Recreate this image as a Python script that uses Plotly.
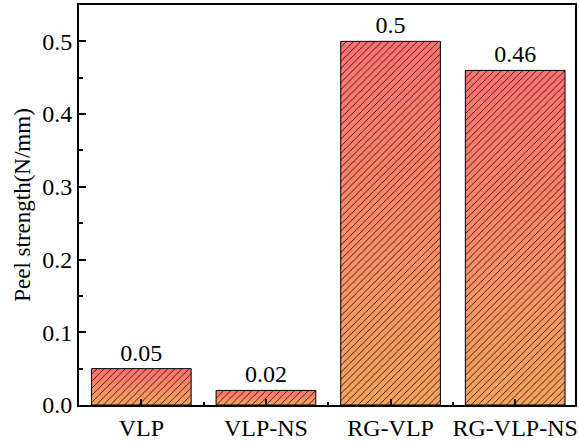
import plotly.graph_objects as go

# Peel strength of the four samples
categories = ["VLP", "VLP-NS", "RG-VLP", "RG-VLP-NS"]
peel_strength = [0.05, 0.02, 0.5, 0.46]
y_ticks = [0.0, 0.1, 0.2, 0.3, 0.4, 0.5]

BAR_WIDTH = 0.8
TOP_COLOR = "#FF7070"
BOTTOM_COLOR = "#F5A35E"
FONT = "Times New Roman, Liberation Serif, serif"

x_pos = list(range(len(categories)))

fig = go.Figure()

# Value labels come from a transparent bar trace (bar layer sits underneath)
fig.add_trace(go.Bar(
    x=x_pos,
    y=peel_strength,
    width=BAR_WIDTH,
    marker=dict(color="rgba(0,0,0,0)", line=dict(width=0)),
    text=[f"{v:g}" for v in peel_strength],
    textposition="outside",
    textfont=dict(family=FONT, size=24, color="black"),
    cliponaxis=False,
    hoverinfo="skip",
    showlegend=False,
))


def bar_outline(xi, v):
    x0, x1 = xi - BAR_WIDTH / 2, xi + BAR_WIDTH / 2
    return [x0, x1, x1, x0, x0], [0, 0, v, v, 0]


# Gradient fill for each bar (orange at the base, red at the top)
for xi, v in zip(x_pos, peel_strength):
    xs, ys = bar_outline(xi, v)
    fig.add_trace(go.Scatter(
        x=xs, y=ys,
        mode="lines",
        line=dict(width=0),
        fill="toself",
        fillgradient=dict(
            type="vertical",
            colorscale=[[0, BOTTOM_COLOR], [1, TOP_COLOR]],
        ),
        hoverinfo="skip",
        showlegend=False,
    ))

# Diagonal hatching and black border on top of the gradient
for xi, v in zip(x_pos, peel_strength):
    xs, ys = bar_outline(xi, v)
    fig.add_trace(go.Scatter(
        x=xs, y=ys,
        mode="lines",
        line=dict(color="black", width=1),
        fill="toself",
        fillcolor="rgba(0,0,0,0)",
        fillpattern=dict(shape="/", fgcolor="black", bgcolor="rgba(0,0,0,0)",
                         fillmode="replace", size=5, solidity=0.15),
        hoverinfo="skip",
        showlegend=False,
    ))

fig.update_layout(
    width=579,
    height=443,
    margin=dict(l=79, r=2, t=5, b=36),
    paper_bgcolor="white",
    plot_bgcolor="white",
    font=dict(family=FONT, size=24, color="black"),
    xaxis=dict(
        range=[-0.5, 3.48],
        tickmode="array",
        tickvals=x_pos,
        ticktext=categories,
        ticks="inside",
        ticklen=6,
        tickwidth=2,
        tickcolor="black",
        showline=True,
        linecolor="black",
        linewidth=2,
        mirror=True,
        showgrid=False,
        zeroline=False,
        minor=dict(tickvals=[0.5, 1.5, 2.5], ticks="inside", ticklen=3,
                   tickwidth=2, tickcolor="black"),
        tickfont=dict(family=FONT, size=24),
    ),
    yaxis=dict(
        range=[0, 0.55],
        tickmode="array",
        tickvals=y_ticks,
        ticktext=[f"{t:.1f}" for t in y_ticks],
        ticks="inside",
        ticklen=7,
        tickwidth=2,
        tickcolor="black",
        showline=True,
        linecolor="black",
        linewidth=2,
        mirror=True,
        showgrid=False,
        zeroline=False,
        minor=dict(dtick=0.05, ticks="inside", ticklen=4, tickwidth=2,
                   tickcolor="black"),
        tickfont=dict(family=FONT, size=24),
        title=dict(text="Peel strength(N/mm)", font=dict(family=FONT, size=23),
                   standoff=5),
    ),
)

fig.write_html("out.html")
